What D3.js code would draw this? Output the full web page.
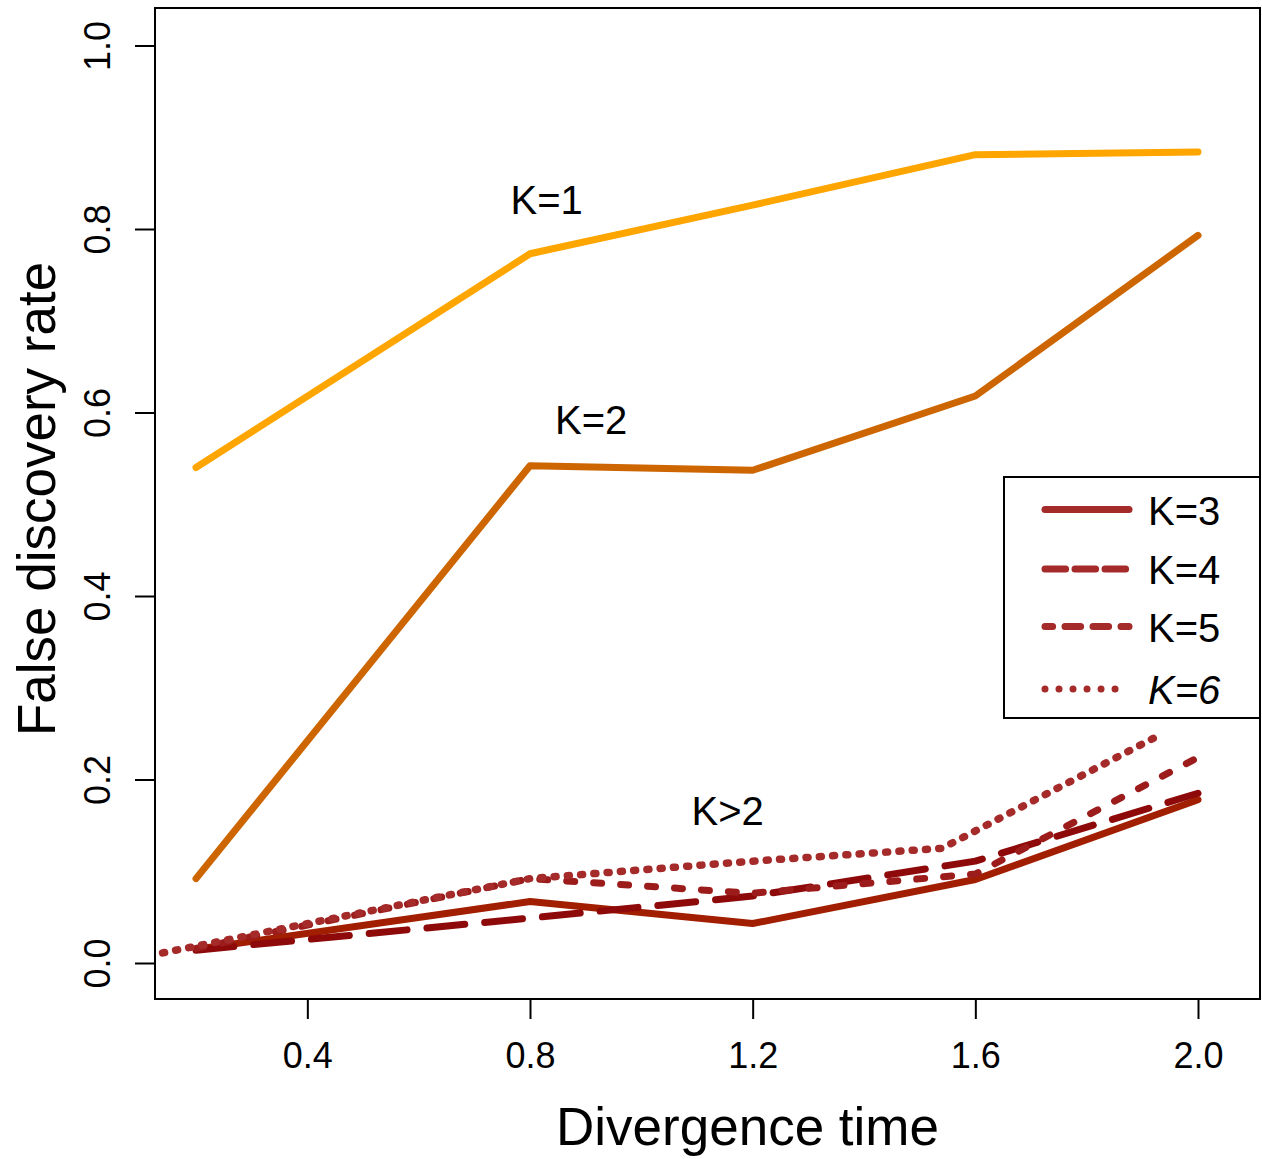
<!DOCTYPE html>
<html>
<head>
<meta charset="utf-8">
<script src="https://cdn.jsdelivr.net/npm/d3@7"></script>
<style>
  html, body { margin: 0; padding: 0; background: #fff; }
  svg { display: block; }
  text { font-family: "Liberation Sans", Arial, Helvetica, sans-serif; fill: #000; }
</style>
</head>
<body>
<svg id="chart" width="1262" height="1159"></svg>
<script>
// ---------- data ----------
const xVals = [0.2, 0.8, 1.2, 1.6, 2.0];
const k1 = [0.540, 0.773, 0.826, 0.881, 0.884];
const k2 = [0.092, 0.542, 0.537, 0.618, 0.793];
const k3 = [0.015, 0.067, 0.043, 0.091, 0.178];
const k4 = [0.014, 0.049, 0.073, 0.111, 0.185];
const k5 = [0.016, 0.092, 0.076, 0.097, 0.224];
const k6x = [0.14, 0.8, 1.2, 1.54, 1.92];
const k6 = [0.011, 0.092, 0.111, 0.125, 0.245];

const xTicks = [0.4, 0.8, 1.2, 1.6, 2.0];
const xTickLabels = ["0.4", "0.8", "1.2", "1.6", "2.0"];
const yTicks = [0.0, 0.2, 0.4, 0.6, 0.8, 1.0];
const yTickLabels = ["0.0", "0.2", "0.4", "0.6", "0.8", "1.0"];

const legendLabels = ["K=3", "K=4", "K=5", "K=6"];
const curveLabels = ["K=1", "K=2", "K>2"];
const curveLabelX = [0.83, 0.91, 1.155];
const curveLabelY = [0.832, 0.592, 0.166];

// ---------- layout ----------
const svg = d3.select("#chart");
const box = { left: 155, right: 1260, top: 8, bottom: 999 };
const x = d3.scaleLinear().domain([0.2, 2.0]).range([196, 1198]);
const y = d3.scaleLinear().domain([0, 1]).range([963, 45.5]);

// series definitions (style)
const series = [
  { xs: xVals, ys: k1, color: "#FFA500", dash: null, w: 7 },
  { xs: xVals, ys: k2, color: "#CD6600", dash: null, w: 7 },
  { xs: xVals, ys: k3, color: "#A21E00", dash: null, w: 7 },
  { xs: xVals, ys: k4, color: "#8E0A0A", dash: "38 20", w: 7 },
  { xs: xVals, ys: k5, color: "#9C1C1C", dash: "8 19", w: 7 },
  { xs: k6x, ys: k6, color: "#A52A2A", dash: "2 11.3", w: 7.5 }
];

const line = d3.line().x(d => x(d[0])).y(d => y(d[1]));

const gLines = svg.append("g");
series.forEach(s => {
  gLines.append("path")
    .datum(s.xs.map((v, i) => [v, s.ys[i]]))
    .attr("d", line)
    .attr("fill", "none")
    .attr("stroke", s.color)
    .attr("stroke-width", s.w)
    .attr("stroke-linecap", "round")
    .attr("stroke-linejoin", "round")
    .attr("stroke-dasharray", s.dash);
});

// plot box
svg.append("rect")
  .attr("x", box.left).attr("y", box.top)
  .attr("width", box.right - box.left).attr("height", box.bottom - box.top)
  .attr("fill", "none").attr("stroke", "#000").attr("stroke-width", 2);

// x axis
const xAxis = d3.axisBottom(x).tickValues(xTicks).tickSize(20)
  .tickFormat((d, i) => xTickLabels[i]);
const gx = svg.append("g").attr("transform", `translate(0,${box.bottom})`).call(xAxis);
gx.select(".domain").remove();
gx.selectAll(".tick line").attr("stroke", "#000").attr("stroke-width", 2);
gx.selectAll(".tick text")
  .attr("y", 69).attr("dy", null)
  .style("font-size", "36px")
  .style("font-family", "Liberation Sans, Arial, sans-serif")
  .attr("fill", "#000");

// y axis
const yAxis = d3.axisLeft(y).tickValues(yTicks).tickSize(20)
  .tickFormat((d, i) => yTickLabels[i]);
const gy = svg.append("g").attr("transform", `translate(${box.left},0)`).call(yAxis);
gy.select(".domain").remove();
gy.selectAll(".tick line").attr("stroke", "#000").attr("stroke-width", 2);
gy.selectAll(".tick text")
  .attr("x", 0).attr("y", -45).attr("dy", null)
  .attr("transform", "rotate(-90)")
  .attr("text-anchor", "middle")
  .style("font-size", "36px")
  .style("font-family", "Liberation Sans, Arial, sans-serif")
  .attr("fill", "#000");

// axis titles
svg.append("text")
  .attr("x", 747.5).attr("y", 1145)
  .attr("text-anchor", "middle")
  .style("font-size", "53px")
  .text("Divergence time");

svg.append("text")
  .attr("transform", `translate(55,${499}) rotate(-90)`)
  .attr("text-anchor", "middle")
  .style("font-size", "53px")
  .text("False discovery rate");

// curve labels
curveLabels.forEach((t, i) => {
  svg.append("text")
    .attr("x", x(curveLabelX[i])).attr("y", y(curveLabelY[i]))
    .attr("dy", "0.36em")
    .attr("text-anchor", "middle")
    .style("font-size", "40px")
    .text(t);
});

// legend
const lg = { x0: 1004, y0: 477, x1: 1260, y1: 718 };
svg.append("rect")
  .attr("x", lg.x0).attr("y", lg.y0)
  .attr("width", lg.x1 - lg.x0).attr("height", lg.y1 - lg.y0)
  .attr("fill", "#fff").attr("stroke", "#000").attr("stroke-width", 2);

const legRows = [509.5, 569, 626.5, 689];
const legDash = [null, "20.6 9.4", "15.6 12.4", "0.01 14"];
const legOffset = [0, 0, 8, 0];
legendLabels.forEach((t, i) => {
  svg.append("line")
    .attr("x1", 1045).attr("x2", 1129)
    .attr("y1", legRows[i]).attr("y2", legRows[i])
    .attr("stroke", "#A52A2A").attr("stroke-width", 7)
    .attr("stroke-linecap", "round")
    .attr("stroke-dasharray", legDash[i])
    .attr("stroke-dashoffset", legOffset[i]);
  svg.append("text")
    .attr("x", 1148).attr("y", legRows[i] + 15)
    .style("font-size", "40px")
    .style("font-style", i === 3 ? "italic" : "normal")
    .text(t);
});
</script>
</body>
</html>
